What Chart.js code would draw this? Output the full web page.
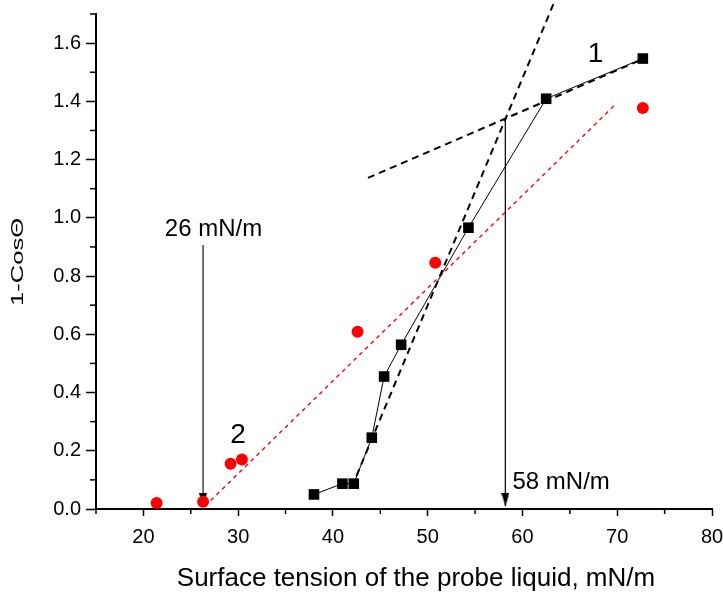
<!DOCTYPE html>
<html>
<head>
<meta charset="utf-8">
<script src="https://cdn.jsdelivr.net/npm/chart.js@4"></script>
<style>
body { margin: 0; background: #fff; }
#wrap { width: 723px; height: 592px; }
</style>
</head>
<body>
<div id="wrap"><canvas id="chart"></canvas></div>
<script>
// curve 1 (black squares)
var tension1 = [38.0, 41.0, 42.2, 44.1, 45.4, 47.2, 54.3, 62.5, 72.7];
var cos1 = [0.05, 0.087, 0.087, 0.245, 0.455, 0.564, 0.966, 1.409, 1.547];
// curve 2 (red circles)
var tension2 = [21.4, 26.3, 29.2, 30.4, 42.6, 50.8, 72.7];
var cos2 = [0.021, 0.025, 0.155, 0.17, 0.609, 0.846, 1.377];
// dashed fits, [x0, y0, x1, y1]
var fit2 = [26.5, 0.01, 69.7, 1.386];
var fitSteep = [42.0, 0.076, 63.6, 1.76];
var fitFlat = [43.7, 1.137, 72.7, 1.545];
// arrows: x, start y, end y
var arrowX = [26.3, 58.2];
var arrowTop = [0.907, 1.34];
var arrowEnd = 0.01;

var xTicks = [20, 30, 40, 50, 60, 70, 80];
var xMinor = [15, 25, 35, 45, 55, 65, 75];
var yTicks = [0.0, 0.2, 0.4, 0.6, 0.8, 1.0, 1.2, 1.4, 1.6];
var yMinor = [0.1, 0.3, 0.5, 0.7, 0.9, 1.1, 1.3, 1.5, 1.7];

var notes = [
    {text: '26 mN/m', x: 27.4, y: 0.938, align: 'center', size: 24},
    {text: '58 mN/m', x: 58.95, y: 0.07, align: 'left', size: 24},
    {text: '1', x: 67.7, y: 1.535, align: 'center', size: 28},
    {text: '2', x: 30.0, y: 0.228, align: 'center', size: 28}
];

var FONT = "Arial, 'Liberation Sans', sans-serif";

function pairs(xs, ys) {
    return xs.map(function (x, i) { return {x: x, y: ys[i]}; });
}
function seg(a) {
    return [{x: a[0], y: a[1]}, {x: a[2], y: a[3]}];
}

// arrow head image, tip at the centre of the canvas
var head = document.createElement('canvas');
head.width = 8; head.height = 26;
var hc = head.getContext('2d');
hc.fillStyle = '#000';
hc.beginPath(); hc.moveTo(0, 0); hc.lineTo(8, 0); hc.lineTo(4, 13); hc.closePath(); hc.fill();

function arrow(i, color, width) {
    return {
        data: [{x: arrowX[i], y: arrowTop[i]}, {x: arrowX[i], y: arrowEnd}],
        showLine: true, borderColor: color, borderWidth: width,
        pointRadius: [0, 4], pointStyle: head, order: 5
    };
}

var decor = {
    id: 'decor',
    afterDraw: function (chart) {
        var ctx = chart.ctx, xs = chart.scales.x, ys = chart.scales.y;
        ctx.save();
        ctx.strokeStyle = '#000';
        ctx.lineWidth = 1.5;
        xMinor.forEach(function (v) {
            var p = xs.getPixelForValue(v);
            ctx.beginPath(); ctx.moveTo(p, xs.top); ctx.lineTo(p, xs.top + 5); ctx.stroke();
        });
        yMinor.forEach(function (v) {
            var p = ys.getPixelForValue(v);
            ctx.beginPath(); ctx.moveTo(ys.right, p); ctx.lineTo(ys.right - 6, p); ctx.stroke();
        });
        ctx.fillStyle = '#000';
        ctx.textBaseline = 'alphabetic';
        notes.forEach(function (n) {
            ctx.font = n.size + 'px ' + FONT;
            ctx.textAlign = n.align;
            ctx.fillText(n.text, xs.getPixelForValue(n.x), ys.getPixelForValue(n.y));
        });
        // axis titles
        ctx.font = '26px ' + FONT;
        ctx.textAlign = 'center';
        ctx.fillText('Surface tension of the probe liquid, mN/m', 416, 586);
        // y title is drawn rotated and stretched along its length
        ctx.font = '16px ' + FONT;
        ctx.setTransform(0, -1.6, 1, 0, 23, 262);
        ctx.fillText('1-CosΘ', 0, 0);
        ctx.restore();
    }
};

var chart = new Chart(document.getElementById('chart'), {
    type: 'scatter',
    data: {
        datasets: [
            {data: pairs(tension1, cos1), showLine: true, borderColor: '#000', borderWidth: 1,
             backgroundColor: '#000', pointStyle: 'rect', pointRadius: 7.5, pointBorderWidth: 0, order: 1},
            {data: pairs(tension2, cos2), backgroundColor: '#ff0000', pointRadius: 6,
             pointBorderWidth: 0, order: 2},
            {data: seg(fit2), showLine: true, borderColor: '#ff0000', borderWidth: 1.4,
             borderDash: [4, 4], pointRadius: 0, order: 3},
            {data: seg(fitSteep), showLine: true, borderColor: '#000', borderWidth: 2,
             borderDash: [7, 5], pointRadius: 0, clip: false, order: 4},
            {data: seg(fitFlat), showLine: true, borderColor: '#000', borderWidth: 2,
             borderDash: [7, 5], pointRadius: 0, order: 4},
            arrow(0, '#444', 1.5),
            arrow(1, '#111', 1)
        ]
    },
    options: {
        responsive: true,
        maintainAspectRatio: false,
        animation: false,
        events: [],
        layout: {padding: {top: 14, right: 11, left: 0, bottom: 0}},
        plugins: {legend: {display: false}, tooltip: {enabled: false}},
        scales: {
            x: {
                type: 'linear', min: 15, max: 80,
                afterBuildTicks: function (s) { s.ticks = xTicks.map(function (v) { return {value: v}; }); },
                afterFit: function (s) { s.height = 83; s.paddingLeft = 0; s.paddingRight = 0; },
                ticks: {color: '#000', font: {family: FONT, size: 20}, padding: 9, maxRotation: 0,
                        callback: function (v) { return String(v); }},
                grid: {drawOnChartArea: false, tickLength: 7, tickWidth: 1.5, tickColor: '#000'},
                border: {color: '#000', width: 2}
            },
            y: {
                type: 'linear', min: 0, max: 1.7,
                afterBuildTicks: function (s) { s.ticks = yTicks.map(function (v) { return {value: v}; }); },
                afterFit: function (s) { s.width = 96; s.paddingTop = 0; s.paddingBottom = 0; },
                ticks: {color: '#000', font: {family: FONT, size: 20}, padding: 5,
                        callback: function (v) { return v.toFixed(1); }},
                grid: {drawOnChartArea: false, tickLength: 10, tickWidth: 1.5, tickColor: '#000'},
                border: {color: '#000', width: 2}
            }
        }
    },
    plugins: [decor]
});
</script>
</body>
</html>
